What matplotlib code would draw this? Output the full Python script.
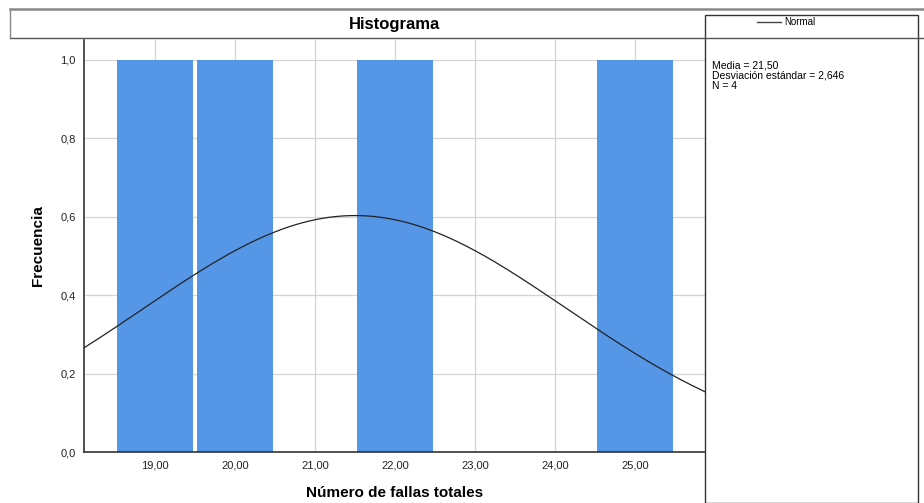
import numpy as np
import matplotlib.pyplot as plt
from matplotlib.lines import Line2D
from matplotlib.patches import Rectangle

plt.rcParams["font.family"] = ["Liberation Sans", "DejaVu Sans"]

# fallas observadas (una por caso)
fallas = [19, 20, 22, 25]
x_ticks = [19, 20, 21, 22, 23, 24, 25]
y_ticks = [0.0, 0.2, 0.4, 0.6, 0.8, 1.0]

n = len(fallas)
media = np.mean(fallas)
desv = np.std(fallas, ddof=1)


def coma(v, dec):
    return f"{v:.{dec}f}".replace(".", ",")


fig = plt.figure(figsize=(9.24, 5.03), dpi=100)
ax = fig.add_axes([84 / 924, 1 - 452 / 503, (705 - 84) / 924, (452 - 40) / 503])

ax.hist(fallas, bins=np.arange(18.5, 26.5, 1), color="#5596e6",
        rwidth=0.94, linewidth=0, zorder=2)

xs = np.linspace(18.0, 26.0, 400)
curva = n * 1.0 / (desv * np.sqrt(2 * np.pi)) * np.exp(-0.5 * ((xs - media) / desv) ** 2)
ax.plot(xs, curva, color="#222222", linewidth=0.9, zorder=3)

ax.set_xlim(18.1125, 25.875)
ax.set_ylim(0, 1.051)
ax.set_xticks(x_ticks)
ax.set_xticklabels([coma(v, 2) for v in x_ticks])
ax.set_yticks(y_ticks)
ax.set_yticklabels([coma(v, 1) for v in y_ticks])
ax.tick_params(length=0, labelsize=8, pad=6, colors="#222222")
ax.grid(True, color="#d4d4d4", linewidth=0.9, zorder=0)
ax.set_axisbelow(True)
for s in ["top", "right"]:
    ax.spines[s].set_visible(False)
for s in ["left", "bottom"]:
    ax.spines[s].set_color("#333333")
    ax.spines[s].set_linewidth(1.2)

fig.text(394.5 / 924, 1 - 493 / 503, "Número de fallas totales", ha="center",
         va="center", fontsize=11, fontweight="bold")
fig.text(38 / 924, 1 - 246 / 503, "Frecuencia", ha="center", va="center",
         rotation=90, fontsize=11, fontweight="bold")

# cuadro del título
W, H = 924, 503
fig.add_artist(Line2D([10 / W, 1], [1 - 9 / H] * 2, color="#888888", linewidth=1.8))
fig.add_artist(Line2D([10 / W, 1], [1 - 38 / H] * 2, color="#555555", linewidth=1.0))
fig.add_artist(Line2D([10 / W] * 2, [1 - 9 / H, 1 - 38 / H], color="#888888", linewidth=1.0))
fig.text(395 / W, 1 - 25 / H, "Histograma", ha="center", va="center",
         fontsize=12, fontweight="bold")

# cuadro de la leyenda
fig.add_artist(Rectangle((705 / W, 0), (918 - 705) / W, 1 - 15 / H,
                         transform=fig.transFigure, facecolor="white",
                         edgecolor="#333333", linewidth=1.0))
fig.add_artist(Line2D([757 / W, 781 / W], [1 - 22 / H] * 2, color="#444444", linewidth=1.0))
fig.text(784 / W, 1 - 22 / H, "Normal", ha="left", va="center", fontsize=7)
fig.text(712 / W, 1 - 61 / H,
         f"Media = {coma(media, 2)}\nDesviación estándar = {coma(desv, 3)}\nN = {n}",
         ha="left", va="top", fontsize=7.5, linespacing=1.0)

fig.savefig("out.png", dpi=100)
